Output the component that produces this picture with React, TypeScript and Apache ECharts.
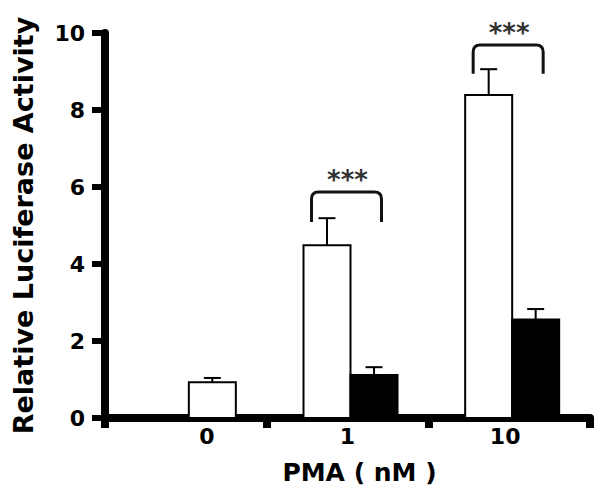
import React, { useEffect, useRef } from "react";
import * as echarts from "echarts";

// ---- data ----
const categories = ["0", "1", "10"];
const whiteMeans = [0.93, 4.49, 8.39];
const whiteErrors = [0.11, 0.7, 0.67];
const blackMeans = [null, 1.12, 2.56];
const blackErrors = [null, 0.2, 0.27];
// significance brackets: category index, bracket top, bracket leg end, star label
const bracketCategories = [1, 2];
const bracketTops = [5.87, 9.69];
const bracketLegs = [5.09, 8.94];
const bracketLabels = ["***", "***"];
const yTicks = [0, 2, 4, 6, 8, 10];

// ---- layout (pixels) ----
const whiteSlot = [1, 0, 0]; // 0 = left slot, 1 = right slot
const BAR_W = 47;
const FONT = "'DejaVu Sans', Verdana, sans-serif";

export default function App() {
  const ref = useRef<HTMLDivElement>(null);
  useEffect(() => {
    if (!ref.current) return;
    const chart = echarts.init(ref.current, null, { renderer: "svg" });

    const barRender = (color: string, slots: number[] | null) => (params: any, api: any) => {
      const ci = api.value(0);
      const v = api.value(1);
      const e = api.value(2);
      const [cx, yTop] = api.coord([ci, v]);
      const [, y0] = api.coord([ci, 0]);
      const [, yErr] = api.coord([ci, v + e]);
      const slot = slots ? slots[ci] : 1;
      const left = slot === 0 ? cx - 44 : cx + 3;
      const mid = left + BAR_W / 2;
      return {
        type: "group",
        children: [
          {
            type: "rect",
            shape: { x: left, y: yTop, width: BAR_W, height: y0 - yTop },
            style: { fill: color, stroke: "#000", lineWidth: 2 },
          },
          {
            type: "line",
            shape: { x1: mid, y1: yTop, x2: mid, y2: yErr },
            style: { stroke: "#000", lineWidth: 2 },
          },
          {
            type: "line",
            shape: { x1: mid - 8.5, y1: yErr, x2: mid + 8.5, y2: yErr },
            style: { stroke: "#000", lineWidth: 2 },
          },
        ],
      };
    };

    const whiteData = whiteMeans.map((m, i) => [i, m, whiteErrors[i]]);
    const blackData = blackMeans
      .map((m, i) => (m == null ? null : [i, m, blackErrors[i] as number]))
      .filter((d) => d !== null);
    const bracketData = bracketCategories.map((c, i) => [c, bracketTops[i], bracketLegs[i], i]);

    const tickFont = { color: "#000", fontSize: 22, fontWeight: "bold", fontFamily: FONT };

    chart.setOption({
      animation: false,
      backgroundColor: "#fff",
      grid: { left: 105, right: 12, top: 33, bottom: 83 },
      xAxis: {
        type: "category",
        data: categories,
        boundaryGap: true,
        axisLine: { lineStyle: { color: "#000", width: 8 } },
        axisTick: { show: true, length: 10, alignWithLabel: false, lineStyle: { color: "#000", width: 8 } },
        axisLabel: {
          margin: 7,
          ...tickFont,
          formatter: (v: string, i: number) => (i === 0 ? `{a|${v}}` : i === 2 ? `{c|${v}}` : `{b|${v}}`),
          rich: {
            a: { padding: [0, 0, 0, 42], ...tickFont },
            b: { ...tickFont },
            c: { padding: [0, 8, 0, 0], ...tickFont },
          },
        },
        name: "PMA ( nM )",
        nameLocation: "middle",
        nameGap: 42,
        nameTextStyle: {
          color: "#000",
          fontSize: 25,
          fontWeight: "bold",
          fontFamily: FONT,
          padding: [0, 0, 0, 24],
        },
      },
      yAxis: {
        type: "value",
        min: yTicks[0],
        max: yTicks[yTicks.length - 1],
        interval: 2,
        splitLine: { show: false },
        axisLine: { show: true, lineStyle: { color: "#000", width: 8 } },
        axisTick: { show: true, length: 13, lineStyle: { color: "#000", width: 6 } },
        axisLabel: { margin: 20, ...tickFont },
        name: "Relative Luciferase Activity",
        nameLocation: "middle",
        nameRotate: 90,
        nameGap: 68,
        nameTextStyle: { color: "#000", fontSize: 27, fontWeight: "bold", fontFamily: FONT },
      },
      series: [
        {
          type: "custom",
          name: "Control",
          data: whiteData,
          renderItem: barRender("#fff", whiteSlot),
          z: 2,
        },
        {
          type: "custom",
          name: "Treated",
          data: blackData,
          renderItem: barRender("#000", null),
          z: 2,
        },
        {
          type: "custom",
          name: "Significance",
          data: bracketData,
          renderItem: (params: any, api: any) => {
            const ci = api.value(0);
            const top = api.value(1);
            const leg = api.value(2);
            const li = api.value(3);
            const [cx, yT] = api.coord([ci, top]);
            const [, yL] = api.coord([ci, leg]);
            const x1 = cx - 36;
            const x2 = cx + 34;
            const r = 7;
            const d = `M${x1},${yL} L${x1},${yT + r} Q${x1},${yT} ${x1 + r},${yT} L${x2 - r},${yT} Q${x2},${yT} ${x2},${yT + r} L${x2},${yL}`;
            return {
              type: "group",
              children: [
                {
                  type: "path",
                  shape: { pathData: d },
                  style: { fill: "none", stroke: "#111", lineWidth: 3 },
                },
                {
                  type: "text",
                  x: cx,
                  y: yT + 1,
                  style: {
                    text: bracketLabels[li],
                    fill: "#333",
                    font: `bold 26px ${FONT}`,
                    align: "center",
                    verticalAlign: "bottom",
                  },
                },
              ],
            };
          },
          z: 3,
        },
      ],
    });
    return () => chart.dispose();
  }, []);
  return <div ref={ref} style={{ width: 602, height: 501, margin: -8 }} />;
}
